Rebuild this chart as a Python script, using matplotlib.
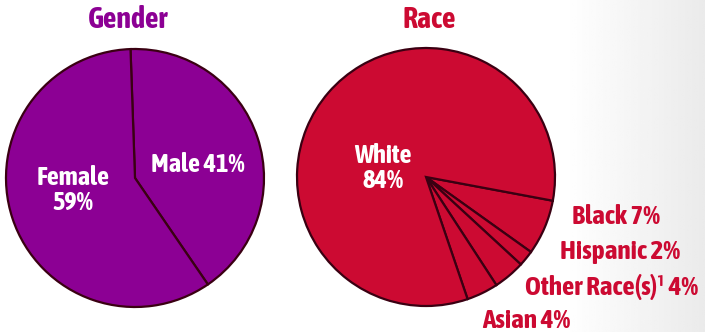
import numpy as np
import matplotlib.pyplot as plt

# =========================
# DATA
# =========================
gender_labels = ["Male", "Female"]
gender_values = [41, 59]

race_labels = ["Black", "Hispanic", "Other Race(s)\u00b9", "Asian", "White"]
race_values = [7, 2, 4, 4, 84]

PURPLE = "#8C0094"
RED = "#CC0A32"
EDGE = "#3a0012"
FONT = ["Asap Condensed", "Archivo Narrow", "DejaVu Sans"]

W, H = 705, 332

fig = plt.figure(figsize=(W / 100, H / 100), dpi=100)

# faint background gradient on the right
bg = fig.add_axes([0, 0, 1, 1])
xs = np.linspace(0, 1, 300)
grad = np.clip((xs - 0.8) / 0.2, 0, 1) * 0.08
img = np.tile(1 - grad, (10, 1))
bg.imshow(img, cmap="gray", vmin=0, vmax=1, aspect="auto", extent=[0, 1, 0, 1])
bg.axis("off")

ax = fig.add_axes([0, 0, 1, 1])
ax.patch.set_alpha(0)

R = 129
cg = (135, H - 178)
cr = (426, H - 177)

ax.pie(gender_values, colors=[PURPLE, PURPLE], startangle=92, counterclock=False,
       center=cg, radius=R, frame=True,
       wedgeprops=dict(edgecolor=EDGE, linewidth=1.6))
ax.pie(race_values, colors=[RED] * len(race_values), startangle=-10.6, counterclock=False,
       center=cr, radius=R, frame=True,
       wedgeprops=dict(edgecolor=EDGE, linewidth=1.6))

ax.set_xlim(0, W)
ax.set_ylim(0, H)
ax.set_aspect("auto")
ax.axis("off")

title_kw = dict(fontsize=21.5, fontweight="bold", family=FONT, ha="center", va="center")
ax.text(128, H - 20, "Gender", color=PURPLE, **title_kw)
ax.text(429, H - 20, "Race", color=RED, **title_kw)

in_kw = dict(fontsize=19, fontweight="bold", family=FONT, color="white",
             ha="center", va="center", linespacing=1.0)
ax.text(73, H - 190, f"Female\n{gender_values[1]}%", **in_kw)
ax.text(198, H - 164, f"Male {gender_values[0]}%", **in_kw)
ax.text(383, H - 168, f"White\n{race_values[4]}%", **in_kw)

out_kw = dict(fontsize=19.5, fontweight="bold", family=FONT, color=RED,
              ha="left", va="center")
ax.text(572, H - 216, f"{race_labels[0]} {race_values[0]}%", **out_kw)
ax.text(560, H - 252, f"{race_labels[1]} {race_values[1]}%", **out_kw)
ax.text(525, H - 287, f"{race_labels[2]} {race_values[2]}%", **out_kw)
ax.text(482, H - 320, f"{race_labels[3]} {race_values[3]}%", **out_kw)

plt.savefig("out.png", dpi=100)
